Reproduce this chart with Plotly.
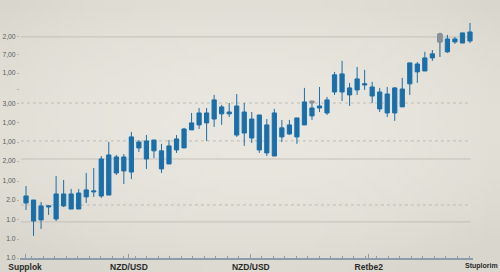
import base64
import struct
import zlib
import plotly.graph_objects as go

# ---------------- data ----------------
candle_index = list(range(60))
body_high = [3.37, 3.15, 2.83, 2.83, 3.48, 3.48, 3.48, 3.53, 3.70, 3.64,
             5.38, 5.60, 5.49, 5.49, 6.58, 6.30, 6.36, 6.41, 5.82, 6.09,
             6.47, 7.01, 7.34, 7.88, 7.88, 8.59, 8.21, 7.93, 8.26, 7.93,
             7.55, 7.77, 7.23, 7.88, 7.07, 7.23, 7.61, 8.48, 8.15, 8.26,
             8.59, 9.95, 10.00, 9.24, 9.73, 9.46, 9.29, 9.02, 8.91, 9.24,
             9.18, 10.60, 10.54, 10.87, 11.09, 12.17, 11.90, 11.90, 12.23, 12.28]
body_low = [2.99, 2.01, 2.07, 2.77, 2.12, 2.83, 2.66, 2.66, 3.32, 3.59,
            3.37, 3.42, 4.62, 4.73, 4.67, 5.98, 5.38, 5.82, 4.84, 5.11,
            5.87, 5.98, 6.96, 7.23, 7.34, 7.55, 7.83, 7.83, 6.68, 6.79,
            6.52, 5.87, 5.71, 5.54, 6.58, 6.74, 6.58, 7.23, 7.72, 8.15,
            7.88, 9.02, 9.02, 8.86, 9.13, 9.40, 8.80, 8.10, 7.88, 7.88,
            8.21, 9.46, 10.11, 10.16, 10.87, 11.74, 11.20, 11.74, 11.68, 11.79]
high = [3.91, 3.15, 3.04, 2.88, 4.46, 4.24, 3.75, 3.75, 4.62, 4.89,
        5.54, 6.30, 5.60, 5.65, 6.85, 6.41, 6.68, 6.41, 6.20, 6.41,
        6.68, 7.07, 7.88, 8.15, 8.15, 8.86, 8.32, 8.42, 8.91, 8.42,
        7.93, 7.77, 7.55, 8.10, 7.50, 7.50, 7.61, 9.24, 8.53, 9.29,
        8.75, 10.11, 10.71, 9.51, 10.38, 10.22, 9.57, 9.24, 9.29, 9.29,
        9.78, 10.60, 10.65, 11.20, 11.30, 12.23, 12.12, 12.01, 12.23, 12.77]
low = [2.61, 1.20, 1.58, 2.34, 2.01, 2.77, 2.66, 2.66, 2.99, 3.32,
       3.26, 3.42, 4.51, 4.02, 4.29, 5.76, 4.84, 5.43, 4.62, 5.11,
       5.71, 5.98, 6.96, 7.01, 6.36, 7.12, 7.23, 7.66, 6.58, 6.09,
       6.25, 5.71, 5.54, 5.54, 6.30, 6.68, 6.20, 7.23, 7.50, 7.93,
       7.77, 8.86, 8.53, 8.26, 8.86, 9.13, 8.42, 7.93, 7.66, 7.45,
       8.21, 8.86, 9.51, 10.16, 10.71, 10.92, 11.14, 11.63, 11.68, 11.68]
gray_index = [38, 55]
gray_open = [8.42, 11.74]
gray_close = [8.53, 12.17]
gray_high = [8.53, 12.23]
gray_low = [8.42, 10.92]

y_tick_vals = [0, 1.03, 2.07, 3.15, 4.18, 5.27, 6.30, 7.34, 8.37, 9.18, 10.05, 11.03, 12.01]
y_tick_text = ["1.0", "1.0", "1.0", "2.0", "1,00", "2,00", "1,00", "1,00", "3,00", "", "1,00", "7,00", "2,00"]
x_tick_vals = [-0.13, 13.68, 29.88, 45.55]
x_tick_text = ["Supplok", "NZD/USD", "NZD/USD", "Retbe2"]
solid_grid = [12.01, 5.38, 1.96]
dotted_grid = [8.42, 6.36, 2.88]

# open / close (all candles share one colour, direction from neighbours)
open_, close_ = [], []
for i in candle_index:
    prev_mid = (body_high[i - 1] + body_low[i - 1]) / 2 if i else body_low[i]
    mid = (body_high[i] + body_low[i]) / 2
    if mid >= prev_mid:
        open_.append(body_low[i]); close_.append(body_high[i])
    else:
        open_.append(body_high[i]); close_.append(body_low[i])

# ---------------- background vignette png ----------------
def make_png(w, h):
    rows = []
    for j in range(h):
        row = bytearray()
        for i in range(w):
            dx = (i / (w - 1) - 0.5) * 2
            dy = (j / (h - 1) - 0.45) * 2
            d = min(1.0, (dx * dx * 0.7 + dy * dy * 0.9) ** 0.5 / 1.2)
            c0 = (233, 231, 223)
            c1 = (217, 215, 205)
            px = [int(c0[k] + (c1[k] - c0[k]) * d * d) for k in range(3)]
            row += bytes(px)
        rows.append(b"\x00" + bytes(row))
    raw = b"".join(rows)

    def chunk(t, data):
        c = struct.pack(">I", len(data)) + t + data
        return c + struct.pack(">I", zlib.crc32(t + data) & 0xffffffff)

    png = b"\x89PNG\r\n\x1a\n"
    png += chunk(b"IHDR", struct.pack(">IIBBBBB", w, h, 8, 2, 0, 0, 0))
    png += chunk(b"IDAT", zlib.compress(raw, 9))
    png += chunk(b"IEND", b"")
    return "data:image/png;base64," + base64.b64encode(png).decode()

BLUE = "#1b6fa9"
GRAY = "#8e9194"

fig = go.Figure()
fig.add_trace(go.Candlestick(
    x=candle_index, open=open_, high=high, low=low, close=close_,
    increasing=dict(line=dict(color=BLUE, width=1), fillcolor=BLUE),
    decreasing=dict(line=dict(color=BLUE, width=1), fillcolor=BLUE),
    whiskerwidth=0, showlegend=False, hoverinfo="skip",
))
fig.add_trace(go.Candlestick(
    x=gray_index, open=gray_open, high=gray_high, low=gray_low, close=gray_close,
    increasing=dict(line=dict(color=GRAY, width=1), fillcolor=GRAY),
    decreasing=dict(line=dict(color=GRAY, width=1), fillcolor=GRAY),
    whiskerwidth=0, showlegend=False, hoverinfo="skip",
))

shapes = []
for v in solid_grid:
    shapes.append(dict(type="line", xref="paper", yref="y", x0=0.002, x1=0.995, y0=v, y1=v,
                       line=dict(color="#c3c1b7", width=1), layer="below"))
for v in dotted_grid:
    shapes.append(dict(type="line", xref="paper", yref="y", x0=0.002, x1=0.995, y0=v, y1=v,
                       line=dict(color="#bebcb2", width=1, dash="dot"), layer="below"))

L, R, T, B = 20, 27, 20, 14
pw, ph = 500 - L - R, 272 - T - B

fig.update_layout(
    width=500, height=272,
    margin=dict(l=L, r=R, t=T, b=B, pad=0, autoexpand=False),
    paper_bgcolor="#e2e0d7",
    plot_bgcolor="rgba(0,0,0,0)",
    boxgap=0.2,
    shapes=shapes,
    images=[dict(source=make_png(60, 33), xref="paper", yref="paper",
                 x=-L / pw, y=1 + T / ph, sizex=500 / pw, sizey=272 / ph,
                 sizing="stretch", xanchor="left", yanchor="top", layer="below")],
    xaxis=dict(
        range=[-0.8, 59.4], rangeslider=dict(visible=False), automargin=False,
        showgrid=False, zeroline=False,
        showline=True, linecolor="#8c9ca8", linewidth=1.5,
        tickmode="array", tickvals=x_tick_vals, ticktext=x_tick_text,
        ticks="inside", ticklen=4, tickcolor="#8c9ca8", tickwidth=1,
        minor=dict(ticks="inside", ticklen=2, tickcolor="#8c9ca8", dtick=1.53, tick0=-0.8, showgrid=False),
        tickfont=dict(family="Liberation Sans", size=8.5, color="#2b2b2b", weight="bold"),
    ),
    yaxis=dict(
        range=[0, 12.93], showgrid=False, zeroline=False, showline=False, automargin=False,
        tickmode="array", tickvals=y_tick_vals, ticktext=y_tick_text,
        ticks="outside", ticklen=2, tickcolor="#b5b3aa",
        tickfont=dict(family="Liberation Sans", size=6.8, color="#5c5c5c"),
    ),
    annotations=[dict(text="Stuplorim", xref="paper", yref="paper", x=(463 - L) / pw, y=-8 / ph,
                      xanchor="left", yanchor="middle", showarrow=False,
                      font=dict(family="Liberation Sans", size=7, color="#2b2b2b", weight="bold"))],
)

fig.write_html("out.html")
